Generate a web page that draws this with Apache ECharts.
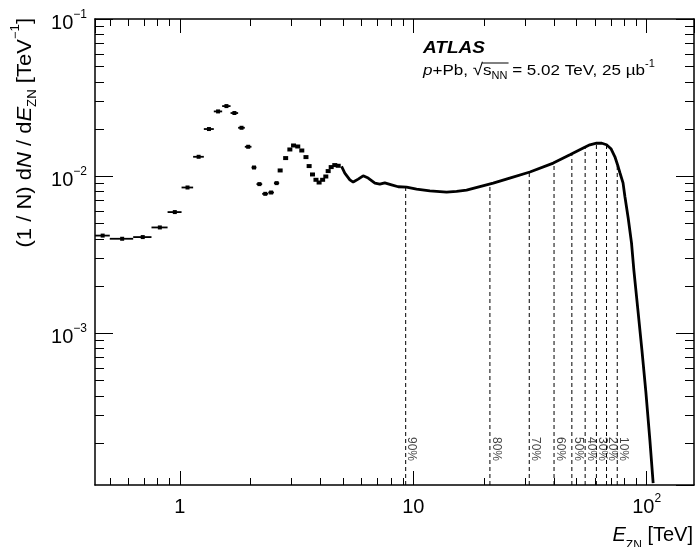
<!DOCTYPE html>
<html>
<head>
<meta charset="utf-8">
<script src="https://cdn.jsdelivr.net/npm/echarts@6/dist/echarts.min.js"></script>
<style>
  html, body { margin: 0; padding: 0; background: #fff; }
  #main { width: 698px; height: 547px; }
</style>
</head>
<body>
<div id="main"></div>
<script>
  // wide bins at low energy (edges in TeV, value)
  const binLo = [0.433, 0.501, 0.631, 0.756, 0.886, 1.017, 1.14, 1.267, 1.398, 1.518, 1.649, 1.777, 1.898, 2.027, 2.13, 2.253, 2.391, 2.53];
  const binHi = [0.501, 0.631, 0.756, 0.886, 1.017, 1.14, 1.267, 1.398, 1.518, 1.649, 1.777, 1.898, 2.027, 2.13, 2.253, 2.391, 2.53, 2.664];
  const binVal = [4.18e-3, 3.99e-3, 4.09e-3, 4.71e-3, 5.90e-3, 8.46e-3, 1.327e-2, 1.993e-2, 2.58e-2, 2.79e-2, 2.52e-2, 2.03e-2, 1.537e-2, 1.134e-2, 8.89e-3, 7.71e-3, 7.86e-3, 9.02e-3];

  // narrower bins drawn as single points
  const dotE = [2.69, 2.84, 2.96, 3.07, 3.20, 3.33, 3.47, 3.58, 3.70, 3.83, 3.95, 4.09, 4.22, 4.32, 4.45, 4.61, 4.77];
  const dotVal = [1.086e-2, 1.302e-2, 1.477e-2, 1.566e-2, 1.543e-2, 1.455e-2, 1.321e-2, 1.158e-2, 1.024e-2, 9.47e-3, 9.10e-3, 9.47e-3, 9.94e-3, 1.076e-2, 1.141e-2, 1.175e-2, 1.163e-2];

  // dense part, points merge into a line
  const curveE = [4.93, 5.09, 5.35, 5.53, 5.81, 6.10, 6.41, 6.85, 7.19, 7.55, 8.07, 8.62, 9.36, 10.33, 11.78, 13.89, 15.33, 16.92, 19.29, 22.0, 25.9, 31.6, 39.8, 46.9, 53.5, 57.1, 61.0, 64.3, 67.3, 70.3, 73.1, 75.5, 76.8, 79.2, 80.7, 83.3, 86.1, 88.1, 91.7, 95.4, 99.2, 103.2, 106.6];
  const curveVal = [1.151e-2, 1.045e-2, 9.47e-3, 9.16e-3, 9.57e-3, 1.004e-2, 9.71e-3, 9.02e-3, 8.89e-3, 9.06e-3, 8.80e-3, 8.55e-3, 8.51e-3, 8.26e-3, 8.06e-3, 7.91e-3, 7.98e-3, 8.14e-3, 8.58e-3, 9.02e-3, 9.71e-3, 1.062e-2, 1.21e-2, 1.367e-2, 1.508e-2, 1.582e-2, 1.622e-2, 1.618e-2, 1.582e-2, 1.493e-2, 1.327e-2, 1.146e-2, 1.05e-2, 9.06e-3, 7.38e-3, 5.43e-3, 3.76e-3, 2.53e-3, 1.407e-3, 7.83e-4, 4.23e-4, 2.09e-4, 1.11e-4];

  // centrality cuts
  const cutE = [9.28, 21.3, 31.4, 40.1, 47.8, 54.5, 60.9, 67.3, 74.8];
  const cutTop = [8.52e-3, 8.9e-3, 1.06e-2, 1.215e-2, 1.38e-2, 1.52e-2, 1.62e-2, 1.58e-2, 1.2e-2];
  const cutLabel = ['90%', '80%', '70%', '60%', '50%', '40%', '30%', '20%', '10%'];

  const XMIN = 0.433, XMAX = 159.5, YMIN = 1.08e-4, YMAX = 0.1;
  const LABEL_Y = 1.83e-4;
  const FONT = '"Liberation Sans", Arial, Helvetica, sans-serif';

  const myChart = echarts.init(document.getElementById('main'), null, {renderer: 'canvas'});

  const powRich = {
    b: {fontSize: 20, fontFamily: FONT, color: '#000', lineHeight: 20, padding: [4, 0, 0, 0], verticalAlign: 'top'},
    s: {fontSize: 12, fontFamily: FONT, color: '#000', lineHeight: 12, verticalAlign: 'top'}
  };
  function powLabel(v) {
    const e = Math.round(Math.log10(v));
    if (e === 0) return '{b|1}';
    if (e === 1) return '{b|10}';
    return '{b|10}{s|' + (e < 0 ? '\u2212' + (-e) : e) + '}';
  }

  const axisLine = {show: true, onZero: false, lineStyle: {color: '#000', width: 1.5}};

  let series = [];
  cutE.forEach(function (e, i) {
    series.push({
      type: 'line',
      data: [[e, YMIN], [e, cutTop[i]]],
      symbol: 'none',
      lineStyle: {color: '#000', width: 1, type: [4, 3]},
      z: 1,
      silent: true
    });
  });
  // labels read top to bottom; offset is given in the rotated frame
  series.push({
    type: 'scatter',
    data: cutE.map(function (e, i) { return {value: [e, LABEL_Y], label: {formatter: cutLabel[i]}}; }),
    symbolSize: 0,
    label: {show: true, position: 'inside', rotate: -90, offset: [0, -6], fontSize: 12, fontFamily: FONT, color: '#111'},
    z: 2
  });
  series.push({
    type: 'custom',
    data: binLo.map(function (lo, i) { return [lo, binHi[i], binVal[i], (lo + binHi[i]) / 2]; }),
    encode: {x: [0, 1], y: 2},
    renderItem: function (params, api) {
      const a = api.coord([api.value(0), api.value(2)]);
      const b = api.coord([api.value(1), api.value(2)]);
      const c = api.coord([api.value(3), api.value(2)]);
      return {
        type: 'group',
        children: [
          {type: 'line', shape: {x1: a[0], y1: a[1], x2: b[0], y2: b[1]}, style: {stroke: '#000', lineWidth: 1.8}},
          {type: 'rect', shape: {x: c[0] - 2, y: c[1] - 2, width: 4, height: 4}, style: {fill: '#000'}}
        ]
      };
    },
    z: 3
  });
  series.push({
    type: 'scatter',
    data: dotE.map(function (e, i) { return [e, dotVal[i]]; }),
    symbol: 'rect',
    symbolSize: [5, 4],
    itemStyle: {color: '#000', opacity: 1},
    z: 3
  });
  series.push({
    type: 'line',
    data: curveE.map(function (e, i) { return [e, curveVal[i]]; }),
    symbol: 'none',
    lineStyle: {color: '#000', width: 2.8},
    z: 3
  });

  let option = {
    animation: false,
    backgroundColor: '#fff',
    grid: {left: 95, right: 4, top: 19, bottom: 62, outerBoundsMode: 'none'},
    xAxis: [
      {
        type: 'log', logBase: 10, min: XMIN, max: XMAX, position: 'bottom',
        axisLine: axisLine,
        axisTick: {inside: true, length: 14, lineStyle: {color: '#000', width: 1}},
        axisLabel: {margin: 8, showMinLabel: false, showMaxLabel: false, formatter: powLabel, rich: powRich},
        splitLine: {show: false}
      },
      {
        type: 'log', logBase: 10, min: XMIN, max: XMAX, position: 'top',
        axisLine: axisLine,
        axisTick: {inside: true, length: 14, lineStyle: {color: '#000', width: 1}},
        axisLabel: {show: false},
        splitLine: {show: false}
      }
    ],
    yAxis: [
      {
        type: 'log', logBase: 10, min: YMIN, max: YMAX, position: 'left',
        axisLine: axisLine,
        axisTick: {inside: true, length: 18, lineStyle: {color: '#000', width: 1}},
        axisLabel: {margin: 8, showMinLabel: false, showMaxLabel: true, formatter: powLabel, rich: powRich},
        splitLine: {show: false}
      },
      {
        type: 'log', logBase: 10, min: YMIN, max: YMAX, position: 'right',
        axisLine: axisLine,
        axisTick: {inside: true, length: 18, lineStyle: {color: '#000', width: 1}},
        axisLabel: {show: false},
        splitLine: {show: false}
      }
    ],
    series: series
  };
  myChart.setOption(option);

  const ctx = document.createElement('canvas').getContext('2d');
  function textWidth(str, font) {
    ctx.font = font;
    return ctx.measureText(str).width;
  }

  // minor ticks (2..9 in every decade) and the texts
  function buildGraphic() {
    const x0 = myChart.convertToPixel({xAxisIndex: 0}, XMIN);
    const x1 = myChart.convertToPixel({xAxisIndex: 0}, XMAX);
    const y0 = myChart.convertToPixel({yAxisIndex: 0}, YMAX);
    const y1 = myChart.convertToPixel({yAxisIndex: 0}, YMIN);
    let els = [];
    const tickStyle = {stroke: '#000', lineWidth: 1};
    for (let n = -1; n <= 2; n++) {
      for (let k = 2; k <= 9; k++) {
        const v = k * Math.pow(10, n);
        if (v <= XMIN || v >= XMAX) continue;
        const px = Math.round(myChart.convertToPixel({xAxisIndex: 0}, v)) + 0.5;
        els.push({type: 'line', shape: {x1: px, y1: y1, x2: px, y2: y1 - 7}, style: tickStyle, silent: true});
        els.push({type: 'line', shape: {x1: px, y1: y0, x2: px, y2: y0 + 7}, style: tickStyle, silent: true});
      }
    }
    for (let n = -4; n <= -2; n++) {
      for (let k = 2; k <= 9; k++) {
        const v = k * Math.pow(10, n);
        if (v <= YMIN || v >= YMAX) continue;
        const py = Math.round(myChart.convertToPixel({yAxisIndex: 0}, v)) + 0.5;
        els.push({type: 'line', shape: {x1: x0, y1: py, x2: x0 + 9, y2: py}, style: tickStyle, silent: true});
        els.push({type: 'line', shape: {x1: x1, y1: py, x2: x1 - 9, y2: py}, style: tickStyle, silent: true});
      }
    }

    // y title
    els.push({
      type: 'text', x: 10, y: 18, rotation: Math.PI / 2, scaleX: 1.1,
      style: {
        text: '{b|(1 / N) d}{i|N}{b| / d}{i|E}{sub|ZN}{b| [TeV}{sup|\u22121}{b|]}',
        align: 'right', verticalAlign: 'top',
        rich: {
          b: {fontSize: 20, fontFamily: FONT, fill: '#000', lineHeight: 20, padding: [5, 0, 0, 0], verticalAlign: 'top'},
          i: {fontSize: 20, fontFamily: FONT, fontStyle: 'italic', fill: '#000', lineHeight: 20, padding: [5, 0, 0, 0], verticalAlign: 'top'},
          sub: {fontSize: 12, fontFamily: FONT, fill: '#000', lineHeight: 12, padding: [17, 0, 0, 0], verticalAlign: 'top'},
          sup: {fontSize: 12, fontFamily: FONT, fill: '#000', lineHeight: 12, verticalAlign: 'top'}
        }
      }
    });
    // x title
    els.push({
      type: 'text', x: 693, y: 521,
      style: {
        text: '{i|E}{sub|ZN}{b| [TeV]}',
        align: 'right', verticalAlign: 'top',
        rich: {
          b: {fontSize: 20, fontFamily: FONT, fill: '#000', lineHeight: 20, padding: [4, 0, 0, 0], verticalAlign: 'top'},
          i: {fontSize: 20, fontFamily: FONT, fontStyle: 'italic', fill: '#000', lineHeight: 20, padding: [4, 0, 0, 0], verticalAlign: 'top'},
          sub: {fontSize: 12, fontFamily: FONT, fill: '#000', lineHeight: 12, padding: [19, 0, 0, 0], verticalAlign: 'top'}
        }
      }
    });
    // ATLAS label
    els.push({
      type: 'text', x: 423, y: 48.5, scaleX: 1.12,
      style: {text: 'ATLAS', font: 'italic bold 17px ' + FONT, fill: '#000', verticalAlign: 'middle'}
    });
    // energy line, bar of the square root placed from measured widths
    const bs = 15.5, rs = 17, ss = 10;
    const barX1 = textWidth('p', 'italic ' + bs + 'px ' + FONT) + textWidth('+Pb, ', bs + 'px ' + FONT) + textWidth('\u221a', rs + 'px ' + FONT) - 0.8;
    const barX2 = barX1 + 0.8 + textWidth('s', bs + 'px ' + FONT) + textWidth('NN', ss + 'px ' + FONT) + 1;
    els.push({
      type: 'group', x: 423, y: 59.5, scaleX: 1.1,
      children: [
        {
          type: 'text', x: 0, y: 0,
          style: {
            text: '{i|p}{b|+Pb, }{r|\u221a}{b|s}{sub|NN}{b| = 5.02 TeV, 25 \u00b5b}{sup|-1}',
            verticalAlign: 'top',
            rich: {
              b: {fontSize: bs, fontFamily: FONT, fill: '#000', lineHeight: 15, padding: [3, 0, 0, 0], verticalAlign: 'top'},
              i: {fontSize: bs, fontFamily: FONT, fontStyle: 'italic', fill: '#000', lineHeight: 15, padding: [3, 0, 0, 0], verticalAlign: 'top'},
              r: {fontSize: rs, fontFamily: FONT, fill: '#000', lineHeight: 17, padding: [2, 0, 0, 0], verticalAlign: 'top'},
              sub: {fontSize: ss, fontFamily: FONT, fill: '#000', lineHeight: 10, padding: [11.5, 0, 0, 0], verticalAlign: 'top'},
              sup: {fontSize: ss, fontFamily: FONT, fill: '#000', lineHeight: 10, verticalAlign: 'top'}
            }
          }
        },
        {type: 'line', shape: {x1: barX1, y1: 3.5, x2: barX2, y2: 3.5}, style: {stroke: '#000', lineWidth: 1}, silent: true}
      ]
    });
    return els;
  }

  myChart.setOption({graphic: buildGraphic()});
</script>
</body>
</html>
